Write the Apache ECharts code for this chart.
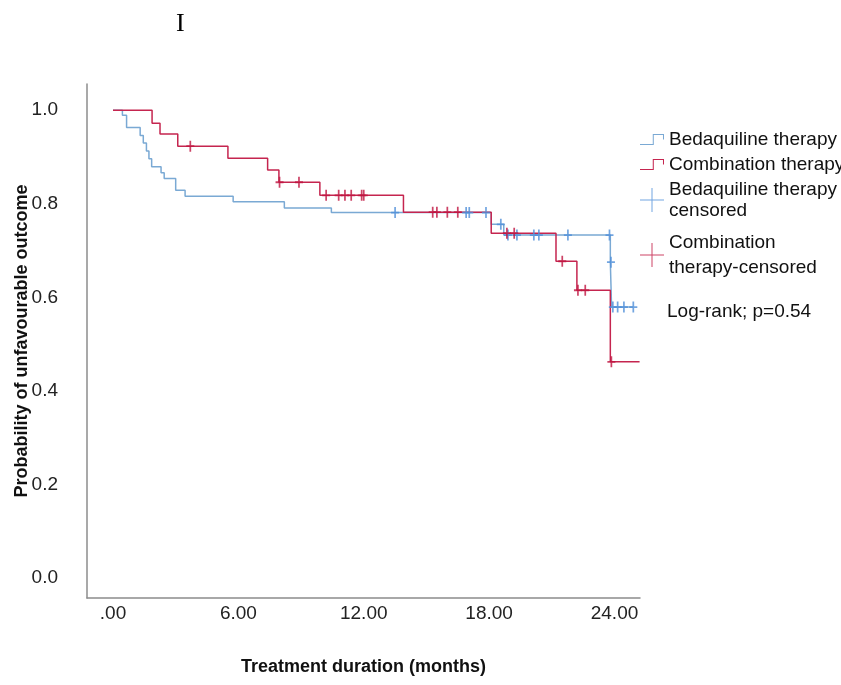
<!DOCTYPE html>
<html>
<head>
<meta charset="utf-8">
<script src="https://cdn.jsdelivr.net/npm/echarts@6/dist/echarts.min.js"></script>
<style>html,body{margin:0;padding:0;background:#fff;}#c{width:841px;height:685px;}</style>
</head>
<body>
<div id="c"></div>
<script>
// Bedaquiline therapy: event times and survival after each step
var bedaqTimes = [0, 0.45, 0.65, 1.3, 1.45, 1.6, 1.72, 1.85, 2.3, 2.45, 3.0, 3.45, 5.75, 8.2, 10.45, 18.1, 18.7, 23.8, 23.86, 24.9];
var bedaqSurv  = [1, 0.989, 0.963, 0.946, 0.93, 0.913, 0.896, 0.879, 0.866, 0.854, 0.829, 0.816, 0.804, 0.791, 0.781, 0.756, 0.733, 0.675, 0.579, 0.579];
// Bedaquiline censored
var bedaqCensT = [13.5, 16.9, 17.05, 17.85, 18.56, 18.9, 19.33, 20.14, 20.38, 21.77, 23.76, 23.83, 23.92, 24.15, 24.45, 24.9];
var bedaqCensS = [0.781, 0.781, 0.781, 0.781, 0.756, 0.733, 0.733, 0.733, 0.733, 0.733, 0.733, 0.675, 0.579, 0.579, 0.579, 0.579];
// Combination therapy
var combTimes = [0, 1.87, 2.25, 3.1, 5.5, 7.4, 7.94, 9.9, 13.9, 18.1, 21.2, 22.2, 23.8, 25.2];
var combSurv  = [1, 0.972, 0.949, 0.923, 0.897, 0.872, 0.846, 0.818, 0.782, 0.737, 0.677, 0.615, 0.462, 0.462];
// Combination censored
var combCensT = [3.7, 7.97, 8.9, 10.2, 10.8, 11.1, 11.4, 11.9, 12.0, 15.3, 15.5, 16.0, 16.5, 18.85, 19.2, 21.5, 22.25, 22.6, 23.85];
var combCensS = [0.923, 0.846, 0.846, 0.818, 0.818, 0.818, 0.818, 0.818, 0.818, 0.782, 0.782, 0.782, 0.782, 0.737, 0.737, 0.677, 0.615, 0.615, 0.462];

var xTicks = [0, 6, 12, 18, 24];
var yTicks = [0, 0.2, 0.4, 0.6, 0.8, 1.0];

function zip(a, b) { return a.map(function (v, i) { return [v, b[i]]; }); }

var FONT = 'Liberation Sans, Arial, sans-serif';
var blueLine = '#7aa9d4', redLine = '#c5254f';
var blueCens = '#4f8fd8', redCens = '#bf1440';
var plusSym = 'path://M-1.5,-9L1.5,-9L1.5,-1.5L7,-1.5L7,1.5L1.5,1.5L1.5,9L-1.5,9L-1.5,1.5L-7,1.5L-7,-1.5L-1.5,-1.5Z';
var stepIcon = 'path://M0,10.5L12.5,10.5L12.5,0.5L23.5,0.5L23.5,6L22.5,6L22.5,1.5L13.5,1.5L13.5,11.5L0,11.5Z';
var plusIcon = 'path://M11.5,0L12.5,0L12.5,11.5L24,11.5L24,12.5L12.5,12.5L12.5,24L11.5,24L11.5,12.5L0,12.5L0,11.5L11.5,11.5Z';

var legendText = {
  'Bedaquiline therapy': 'Bedaquiline therapy',
  'Combination therapy': 'Combination therapy',
  'Bedaquiline therapy-censored': 'Bedaquiline therapy\ncensored',
  'Combination therapy-censored': 'Combination\ntherapy-censored'
};
function mkLegend(name, top, icon, w, h, lh) {
  return {
    data: [{name: name, icon: icon}],
    left: 640, top: top, orient: 'vertical',
    itemWidth: w, itemHeight: h, padding: 0,
    formatter: function (n) { return legendText[n]; },
    textStyle: {fontFamily: FONT, fontSize: 19, color: '#111', lineHeight: lh},
    selectedMode: false
  };
}

var chart = echarts.init(document.getElementById('c'), null, {renderer: 'canvas'});
chart.setOption({
  animation: false,
  backgroundColor: '#fff',
  title: {text: 'I', left: 171, top: 6, textStyle: {fontFamily: 'Liberation Serif, Times New Roman, serif', fontSize: 26, fontWeight: 'normal', color: '#000'}},
  grid: {left: 87, top: 84, right: 201, bottom: 87, containLabel: false, outerBoundsMode: 'none'},
  xAxis: {
    type: 'value', min: -1.244, max: 25.22,
    name: 'Treatment duration (months)', nameLocation: 'middle', nameGap: 60, nameMoveOverlap: false,
    nameTextStyle: {fontFamily: FONT, fontSize: 18, fontWeight: 'bold', color: '#111'},
    axisLine: {show: true, onZero: false, lineStyle: {color: '#8c8c8c', width: 1.5}},
    axisTick: {show: false},
    splitLine: {show: false},
    axisLabel: {customValues: xTicks, margin: 6, fontFamily: FONT, fontSize: 19, color: '#222',
      formatter: function (v) { return v === 0 ? '.00' : v.toFixed(2); }}
  },
  yAxis: {
    type: 'value', min: -0.043, max: 1.056,
    name: 'Probability of unfavourable outcome', nameLocation: 'middle', nameGap: 56, nameMoveOverlap: false,
    nameTextStyle: {fontFamily: FONT, fontSize: 18, fontWeight: 'bold', color: '#111'},
    axisLine: {show: true, onZero: false, lineStyle: {color: '#8c8c8c', width: 1.5}},
    axisTick: {show: false},
    splitLine: {show: false},
    axisLabel: {customValues: yTicks, margin: 29, fontFamily: FONT, fontSize: 19, color: '#222',
      formatter: function (v) { return v.toFixed(1); }}
  },
  legend: [
    mkLegend('Bedaquiline therapy', 129, stepIcon, 24, 12, 21),
    mkLegend('Combination therapy', 154, stepIcon, 24, 12, 21),
    mkLegend('Bedaquiline therapy-censored', 179, plusIcon, 24, 24, 21),
    mkLegend('Combination therapy-censored', 230, plusIcon, 24, 24, 25)
  ],
  graphic: [
    {type: 'text', left: 667, top: 302, style: {text: 'Log-rank; p=0.54', font: '19px ' + FONT, fill: '#111'}}
  ],
  series: [
    {name: 'Bedaquiline therapy', type: 'line', step: 'end', data: zip(bedaqTimes, bedaqSurv),
     showSymbol: false, symbol: 'none', color: blueLine, lineStyle: {color: blueLine, width: 1.5}, z: 2},
    {name: 'Combination therapy', type: 'line', step: 'end', data: zip(combTimes, combSurv),
     showSymbol: false, symbol: 'none', color: redLine, lineStyle: {color: redLine, width: 1.5}, z: 3},
    {name: 'Bedaquiline therapy-censored', type: 'scatter', data: zip(bedaqCensT, bedaqCensS),
     symbol: plusSym, symbolSize: [8, 11], color: blueCens, itemStyle: {color: blueCens}, z: 4},
    {name: 'Combination therapy-censored', type: 'scatter', data: zip(combCensT, combCensS),
     symbol: plusSym, symbolSize: [8, 11], color: redCens, itemStyle: {color: redCens}, z: 5}
  ]
});
</script>
</body>
</html>
